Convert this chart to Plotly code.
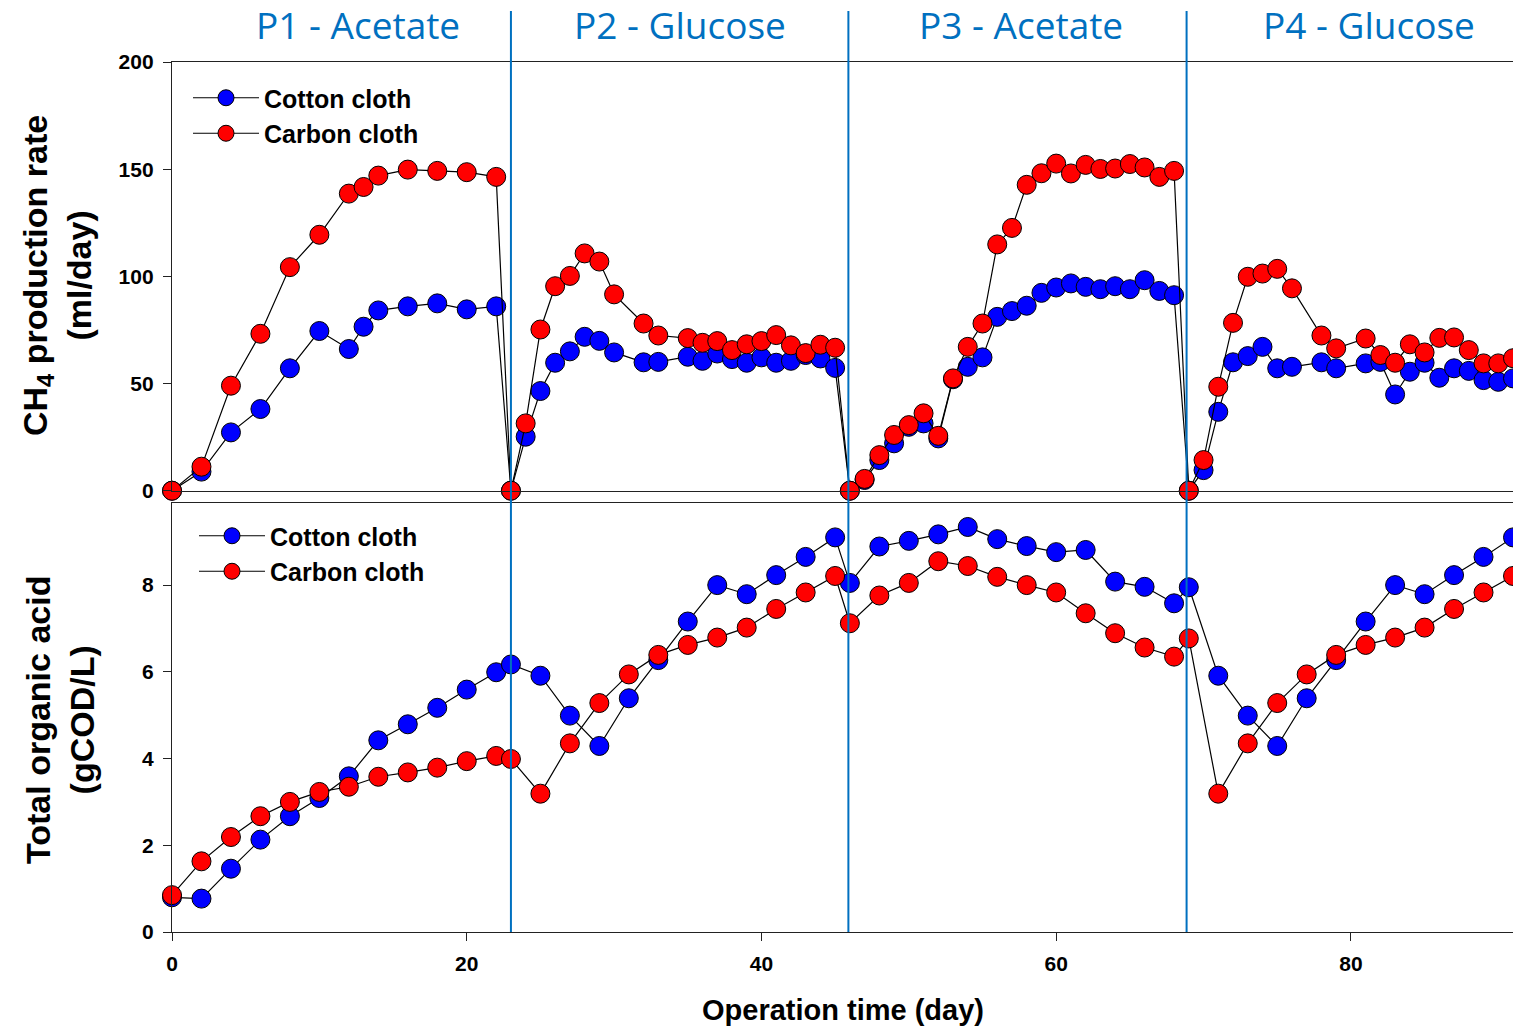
import plotly.graph_objects as go

# ---------------- data ----------------
days_ch4 = [0, 2, 4, 6, 8, 10, 12, 13, 14, 16, 18, 20, 22,
            23, 24, 25, 26, 27, 28, 29, 30, 32, 33, 35, 36, 37, 38, 39, 40, 41, 42, 43, 44, 45,
            46, 47, 48, 49, 50, 51, 52, 53, 54, 55, 56, 57, 58, 59, 60, 61, 62, 63, 64, 65, 66, 67, 68,
            69, 70, 71, 72, 73, 74, 75, 76, 78, 79, 81, 82, 83, 84, 85, 86, 87, 88, 89, 90, 91]

cotton_ch4 = [0, 8.9, 27.2, 38.1, 57.1, 74.5, 66.1, 76.5, 84.1, 86.0, 87.4, 84.6, 86.0,
              0, 25.2, 46.5, 59.7, 65.0, 71.8, 69.9, 64.5, 59.9, 60.1, 62.5, 60.6, 64.0, 61.4, 59.7, 62.2, 59.7, 60.6, 63.3, 61.7, 57.3,
              0, 5.0, 14.3, 22.1, 29.8, 31.4, 24.4, 52.0, 57.8, 62.2, 81.1, 83.8, 86.3, 92.3, 94.8, 96.7, 95.1, 94.0, 95.4, 94.0, 98.2, 93.2, 91.2,
              0, 9.6, 36.8, 59.9, 62.8, 67.1, 57.1, 57.8, 59.9, 57.1, 59.4, 60.1, 44.9, 55.5, 59.7, 52.7, 57.1, 55.9, 51.6, 50.8, 52.4]

carbon_ch4 = [0, 11.2, 49.0, 73.2, 104.3, 119.4, 138.6, 141.7, 147.0, 149.8, 149.2, 148.6, 146.4,
              0, 31.4, 75.2, 95.4, 100.2, 110.7, 106.9, 91.6, 78.0, 72.4, 71.2, 69.0, 69.8, 65.6, 68.3, 69.8, 72.6, 67.8, 64.2, 68.1, 66.7,
              0, 5.5, 16.6, 26.0, 30.6, 36.1, 25.6, 52.4, 67.1, 78.0, 114.9, 122.6, 142.7, 148.1, 152.6, 148.0, 152.0, 150.1, 150.3, 152.4, 150.8, 146.4, 149.2,
              0, 14.3, 48.5, 78.3, 99.8, 101.3, 103.5, 94.4, 72.4, 66.4, 71.0, 63.3, 59.7, 68.3, 64.5, 71.3, 71.5, 65.6, 59.4, 59.4, 61.8]

days_toa = [0, 2, 4, 6, 8, 10, 12, 14, 16, 18, 20, 22, 23,
            25, 27, 29, 31, 33, 35, 37, 39, 41, 43, 45, 46,
            48, 50, 52, 54, 56, 58, 60, 62, 64, 66, 68, 69,
            71, 73, 75, 77, 79, 81, 83, 85, 87, 89, 91]

cotton_toa = [0.80, 0.77, 1.46, 2.13, 2.67, 3.09, 3.59, 4.42, 4.79, 5.17, 5.59, 5.99, 6.17,
              5.91, 4.99, 4.29, 5.39, 6.27, 7.16, 8.00, 7.79, 8.23, 8.65, 9.10, 8.05,
              8.89, 9.02, 9.17, 9.34, 9.06, 8.90, 8.76, 8.81, 8.08, 7.96, 7.58, 7.95,
              5.91, 4.99, 4.29, 5.39, 6.27, 7.16, 8.00, 7.79, 8.23, 8.65, 9.10]

carbon_toa = [0.85, 1.63, 2.19, 2.67, 3.00, 3.23, 3.35, 3.58, 3.68, 3.79, 3.94, 4.06, 3.99,
              3.19, 4.35, 5.28, 5.94, 6.39, 6.62, 6.79, 7.02, 7.45, 7.83, 8.21, 7.12,
              7.76, 8.05, 8.55, 8.44, 8.19, 8.00, 7.83, 7.35, 6.89, 6.56, 6.35, 6.77,
              3.19, 4.35, 5.28, 5.94, 6.39, 6.62, 6.79, 7.02, 7.45, 7.83, 8.21]

phase_names = ["P1 - Acetate", "P2 - Glucose", "P3 - Acetate", "P4 - Glucose"]
phase_label_days = [12.6, 34.5, 57.6, 81.2]
phase_boundaries = [23.0, 45.9, 68.85]

series_names = ["Cotton cloth", "Carbon cloth"]
series_colors = ["#0000FF", "#FF0000"]

# ---------------- figure ----------------
FONT = "Liberation Sans, Arial, sans-serif"
fig = go.Figure()

def add(x, y, name, color, xa, ya, legend):
    fig.add_trace(go.Scatter(
        x=x, y=y, name=name, mode="lines+markers",
        xaxis=xa, yaxis=ya, legend=legend, cliponaxis=False,
        line=dict(color="black", width=1.2),
        marker=dict(size=19, color=color, line=dict(color="black", width=1)),
    ))

add(days_ch4, cotton_ch4, series_names[0], series_colors[0], "x", "y", "legend")
add(days_ch4, carbon_ch4, series_names[1], series_colors[1], "x", "y", "legend")
add(days_toa, cotton_toa, series_names[0], series_colors[0], "x2", "y2", "legend2")
add(days_toa, carbon_toa, series_names[1], series_colors[1], "x2", "y2", "legend2")

H_TOP = 62
H_BOT = 932
PH = H_BOT - H_TOP

def py(pix):
    return (H_BOT - pix) / PH

axis_line = dict(showline=True, linecolor="#222", linewidth=1.3, mirror=True,
                 showgrid=False, zeroline=False)
tickfont = dict(family=FONT, size=21, color="black", weight=700)

fig.update_layout(
    width=1513, height=1027,
    margin=dict(l=172, r=0, t=H_TOP, b=1027 - H_BOT),
    paper_bgcolor="white", plot_bgcolor="white",
    font=dict(family=FONT, color="black"),
    showlegend=True,
    xaxis=dict(domain=[0, 1], anchor="y", range=[0, 91], showticklabels=False,
               ticks="", **axis_line),
    yaxis=dict(domain=[py(490.7), 1], anchor="x", range=[0, 200],
               tickvals=[0, 50, 100, 150, 200], ticks="outside", ticklen=8,
               ticklabelstandoff=5,
               tickcolor="#222", tickfont=tickfont, **axis_line),
    xaxis2=dict(domain=[0, 1], anchor="y2", range=[0, 91],
                tickvals=[0, 20, 40, 60, 80], ticks="outside", ticklen=8,
                ticklabelstandoff=5,
                tickcolor="#222", tickfont=tickfont, **axis_line),
    yaxis2=dict(domain=[0, py(502.7)], anchor="x2", range=[0, 9.9],
                tickvals=[0, 2, 4, 6, 8], ticks="outside", ticklen=8,
                ticklabelstandoff=5,
                tickcolor="#222", tickfont=tickfont, **axis_line),
    legend=dict(x=(188 - 172) / 1341, y=py(75), xanchor="left", yanchor="top",
                bgcolor="rgba(0,0,0,0)", itemwidth=66,
                font=dict(family=FONT, size=25, color="black", weight=700),
                tracegroupgap=0),
    legend2=dict(x=(194 - 172) / 1341, y=py(513), xanchor="left", yanchor="top",
                 bgcolor="rgba(0,0,0,0)", itemwidth=66,
                 font=dict(family=FONT, size=25, color="black", weight=700),
                 tracegroupgap=0),
)

for xb in phase_boundaries:
    fig.add_shape(type="line", xref="x", yref="paper", x0=xb, x1=xb,
                  y0=0, y1=py(11), line=dict(color="#0070C0", width=2), layer="above")

for name, xd in zip(phase_names, phase_label_days):
    fig.add_annotation(text=name, x=xd, xref="x", y=py(25), yref="paper",
                       xanchor="center", yanchor="middle", showarrow=False,
                       font=dict(family="Open Sans, sans-serif", size=37, color="#0070C0"))

title_font = dict(family=FONT, size=34, color="black", weight=700)
fig.add_annotation(text="CH<sub>4</sub> production rate<br>(ml/day)",
                   x=-(172 - 57) / 1341, xref="paper", y=py(276), yref="paper",
                   textangle=-90, xanchor="center", yanchor="middle", showarrow=False,
                   font=title_font)
fig.add_annotation(text="Total organic acid<br>(gCOD/L)",
                   x=-(172 - 60) / 1341, xref="paper", y=py(720), yref="paper",
                   textangle=-90, xanchor="center", yanchor="middle", showarrow=False,
                   font=title_font)
fig.add_annotation(text="Operation time (day)",
                   x=0.5, xref="paper", y=py(1010), yref="paper",
                   xanchor="center", yanchor="middle", showarrow=False,
                   font=dict(family=FONT, size=29, color="black", weight=700))

fig.write_html("out.html")
